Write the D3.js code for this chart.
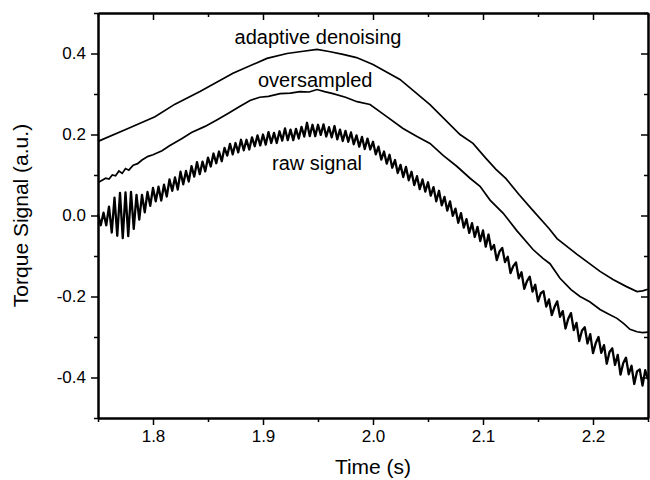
<!DOCTYPE html>
<html>
<head>
<meta charset="utf-8">
<script src="https://cdn.jsdelivr.net/npm/d3@7"></script>
<style>
  body { margin: 0; background: #fff; }
  svg { display: block; font-family: "Liberation Sans", Arial, sans-serif; }
</style>
</head>
<body>
<div id="chart"></div>
<script>
// Axis setup
const xDomain = [1.75, 2.25];
const yDomain = [-0.5, 0.5];
const xTicks = [1.8, 1.9, 2.0, 2.1, 2.2];
const xMinor = [1.75, 1.85, 1.95, 2.05, 2.15, 2.25];
const yTicks = [-0.4, -0.2, 0.0, 0.2, 0.4];
const yMinor = [-0.5, -0.3, -0.1, 0.1, 0.3, 0.5];

// adaptive denoising (top curve)
const adaptiveT = [1.75, 1.7773, 1.8018, 1.82, 1.8427, 1.8727, 1.9036, 1.9218, 1.935, 1.9491,
  1.96, 1.9727, 1.985, 2.0, 2.0245, 2.0518, 2.0791, 2.0909, 2.1027, 2.1118, 2.1209, 2.1327,
  2.1445, 2.16, 2.1673, 2.1855, 2.2064, 2.2182, 2.23, 2.24, 2.245, 2.25];
const adaptiveV = [0.183, 0.215, 0.244, 0.275, 0.306, 0.351, 0.388, 0.400, 0.405, 0.410,
  0.405, 0.398, 0.390, 0.373, 0.336, 0.274, 0.200, 0.178, 0.141, 0.114, 0.091, 0.052,
  0.015, -0.032, -0.057, -0.096, -0.138, -0.158, -0.175, -0.188, -0.186, -0.182];

// oversampled (middle curve)
const overT = [1.75, 1.7518, 1.757, 1.76, 1.763, 1.766, 1.769, 1.772, 1.775, 1.778, 1.782,
  1.786, 1.79, 1.7955, 1.8, 1.8082, 1.815, 1.8264, 1.835, 1.8473, 1.858, 1.8682, 1.878,
  1.8882, 1.897, 1.905, 1.9155, 1.925, 1.9336, 1.942, 1.9491, 1.956, 1.9636, 1.975, 1.9855,
  1.9973, 2.01, 2.0273, 2.04, 2.0518, 2.064, 2.0764, 2.0882, 2.0973, 2.1064, 2.1182, 2.1309,
  2.1455, 2.1545, 2.1609, 2.17, 2.18, 2.1882, 2.197, 2.2064, 2.214, 2.2218, 2.228, 2.2336,
  2.24, 2.245, 2.25];
const overV = [0.082, 0.084, 0.092, 0.090, 0.100, 0.098, 0.110, 0.104, 0.116, 0.112, 0.124,
  0.128, 0.137, 0.146, 0.150, 0.160, 0.172, 0.190, 0.205, 0.220, 0.236, 0.252, 0.268,
  0.284, 0.292, 0.294, 0.301, 0.302, 0.306, 0.305, 0.311, 0.306, 0.301, 0.292, 0.281,
  0.274, 0.249, 0.215, 0.195, 0.178, 0.148, 0.121, 0.092, 0.072, 0.038, 0.006, -0.038,
  -0.084, -0.106, -0.119, -0.155, -0.183, -0.200, -0.213, -0.232, -0.243, -0.254, -0.267, -0.281,
  -0.287, -0.289, -0.288];

// raw signal, sampled every 2.5 ms from 1.75 s
const rawStart = 1.75;
const rawStep = 0.0025;
const rawV = [
  0.003, -0.024, 0.007, -0.024, 0.022, -0.042, 0.044, -0.050, 0.056, -0.056,
  0.057, -0.051, 0.058, -0.033, 0.051, -0.010, 0.051, 0.008, 0.058, 0.024,
  0.068, 0.035, 0.071, 0.037, 0.076, 0.047, 0.089, 0.061, 0.094, 0.064,
  0.108, 0.077, 0.110, 0.084, 0.122, 0.096, 0.132, 0.102, 0.133, 0.109,
  0.143, 0.121, 0.153, 0.129, 0.158, 0.134, 0.167, 0.148, 0.177, 0.151,
  0.179, 0.156, 0.187, 0.161, 0.187, 0.163, 0.193, 0.171, 0.198, 0.173,
  0.200, 0.175, 0.206, 0.179, 0.204, 0.179, 0.208, 0.185, 0.215, 0.186,
  0.212, 0.186, 0.214, 0.190, 0.219, 0.195, 0.229, 0.196, 0.224, 0.196,
  0.224, 0.199, 0.225, 0.195, 0.218, 0.193, 0.221, 0.188, 0.212, 0.184,
  0.209, 0.182, 0.205, 0.176, 0.198, 0.170, 0.194, 0.164, 0.190, 0.163,
  0.182, 0.151, 0.170, 0.138, 0.158, 0.128, 0.150, 0.118, 0.137, 0.105,
  0.125, 0.095, 0.120, 0.087, 0.108, 0.075, 0.097, 0.065, 0.089, 0.059,
  0.082, 0.049, 0.070, 0.035, 0.061, 0.025, 0.046, 0.012, 0.035, -0.001,
  0.017, -0.018, 0.006, -0.030, -0.009, -0.043, -0.019, -0.053, -0.028, -0.063,
  -0.037, -0.077, -0.047, -0.084, -0.073, -0.110, -0.089, -0.080, -0.115, -0.102,
  -0.142, -0.125, -0.116, -0.155, -0.140, -0.181, -0.162, -0.151, -0.188, -0.171,
  -0.212, -0.192, -0.187, -0.225, -0.207, -0.246, -0.226, -0.212, -0.250, -0.236,
  -0.279, -0.255, -0.241, -0.283, -0.265, -0.310, -0.284, -0.276, -0.316, -0.293,
  -0.340, -0.315, -0.300, -0.339, -0.320, -0.366, -0.337, -0.328, -0.369, -0.344,
  -0.393, -0.364, -0.351, -0.392, -0.371, -0.416, -0.385, -0.380, -0.420, -0.382,
  -0.405
];

const labels = [
  { text: 'adaptive denoising', t: 1.95, v: 0.424 },
  { text: 'oversampled', t: 1.9475, v: 0.318 },
  { text: 'raw signal', t: 1.9491, v: 0.113 }
];

const width = 650, height = 480;
const margin = { top: 13, right: 2, bottom: 62, left: 98 };

const svg = d3.select('#chart').append('svg')
  .attr('width', width)
  .attr('height', height);

const x = d3.scaleLinear().domain(xDomain).range([margin.left, width - margin.right]);
const y = d3.scaleLinear().domain(yDomain).range([height - margin.bottom, margin.top]);

// plain hyphen for negatives, like the original
const fmt = d => d3.format('.1f')(d).replace('\u2212', '-');
const tickFont = '17px';

// Axes: outer ticks on bottom/left, inner ticks on top/right
function drawAxis(axis, transform, labelsOn) {
  const g = svg.append('g').attr('transform', transform).call(axis);
  g.select('.domain').attr('stroke', '#000').attr('stroke-width', 2);
  g.selectAll('.tick line').attr('stroke', '#000').attr('stroke-width', 1.5);
  g.selectAll('.tick text')
    .attr('fill', '#000')
    .attr('font-size', tickFont)
    .attr('font-family', '"Liberation Sans", Arial, sans-serif');
  if (!labelsOn) g.selectAll('.tick text').remove();
  return g;
}

drawAxis(d3.axisBottom(x).tickValues(xTicks).tickFormat(fmt).tickSize(7).tickSizeOuter(0).tickPadding(5),
  `translate(0,${y(-0.5)})`, true);
drawAxis(d3.axisBottom(x).tickValues(xMinor).tickFormat('').tickSize(4).tickSizeOuter(0),
  `translate(0,${y(-0.5)})`, false);
drawAxis(d3.axisTop(x).tickValues(xTicks).tickSize(-7).tickSizeOuter(0),
  `translate(0,${y(0.5)})`, false);
drawAxis(d3.axisTop(x).tickValues(xMinor).tickSize(-4).tickSizeOuter(0),
  `translate(0,${y(0.5)})`, false);

drawAxis(d3.axisLeft(y).tickValues(yTicks).tickFormat(fmt).tickSize(7).tickSizeOuter(0).tickPadding(5),
  `translate(${x(1.75)},0)`, true);
drawAxis(d3.axisLeft(y).tickValues(yMinor).tickFormat('').tickSize(4).tickSizeOuter(0),
  `translate(${x(1.75)},0)`, false);
drawAxis(d3.axisRight(y).tickValues(yTicks).tickSize(-7).tickSizeOuter(0),
  `translate(${x(2.25)},0)`, false);
drawAxis(d3.axisRight(y).tickValues(yMinor).tickSize(-4).tickSizeOuter(0),
  `translate(${x(2.25)},0)`, false);

// Curves
const line = d3.line().x(d => x(d[0])).y(d => y(d[1]));

const plot = svg.append('g');

plot.append('path')
  .datum(rawV.map((v, i) => [rawStart + i * rawStep, v]))
  .attr('d', line)
  .attr('fill', 'none')
  .attr('stroke', '#000')
  .attr('stroke-width', 2.3)
  .attr('stroke-linejoin', 'round');

plot.append('path')
  .datum(overT.map((t, i) => [t, overV[i]]))
  .attr('d', line)
  .attr('fill', 'none')
  .attr('stroke', '#000')
  .attr('stroke-width', 1.7);

plot.append('path')
  .datum(adaptiveT.map((t, i) => [t, adaptiveV[i]]))
  .attr('d', line)
  .attr('fill', 'none')
  .attr('stroke', '#000')
  .attr('stroke-width', 1.7);

// Curve labels
labels.forEach(l => {
  svg.append('text')
    .attr('x', x(l.t))
    .attr('y', y(l.v))
    .attr('text-anchor', 'middle')
    .attr('font-size', '20px')
    .attr('fill', '#000')
    .text(l.text);
});

// Axis titles
svg.append('text')
  .attr('x', x(2.0))
  .attr('y', 474)
  .attr('text-anchor', 'middle')
  .attr('font-size', '21px')
  .text('Time (s)');

svg.append('text')
  .attr('transform', `translate(28,${y(0)}) rotate(-90)`)
  .attr('text-anchor', 'middle')
  .attr('font-size', '21px')
  .text('Torque Signal (a.u.)');
</script>
</body>
</html>
